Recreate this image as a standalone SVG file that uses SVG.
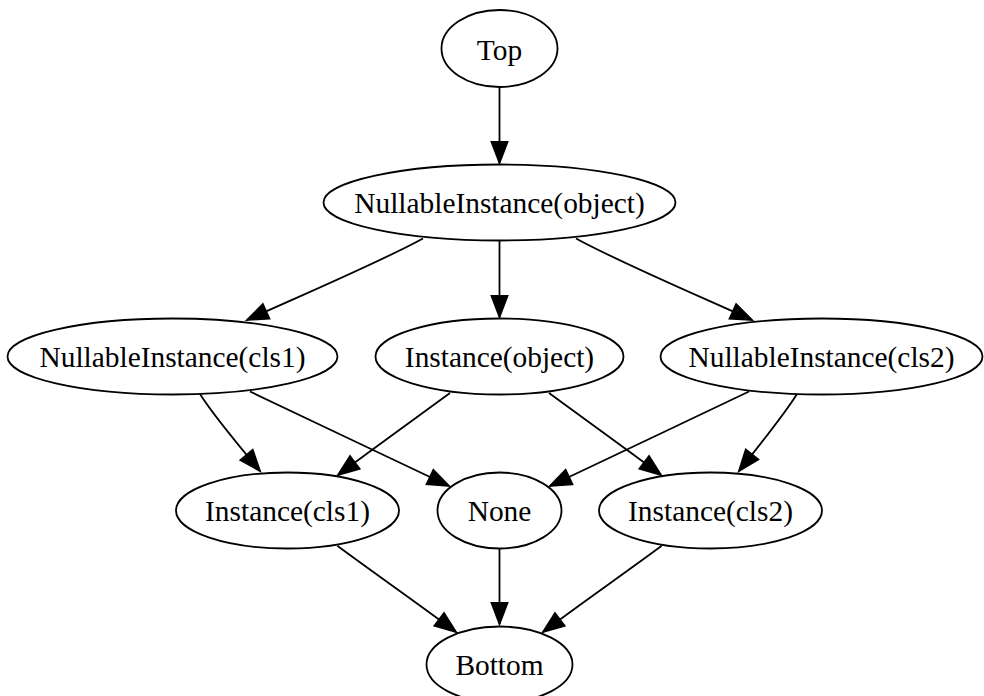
<svg xmlns="http://www.w3.org/2000/svg" width="984" height="696" viewBox="0 0 984 696">
<style>
.n ellipse{fill:none;stroke:#000;stroke-width:1.8}
.n text{font-family:"Liberation Serif","Times New Roman",serif;font-size:29.4px;text-anchor:middle;fill:#000}
#edges path{fill:none;stroke:#000;stroke-width:1.8;marker-end:url(#arr)}
</style>
<defs>
<marker id="arr" markerUnits="userSpaceOnUse" markerWidth="30" markerHeight="24" viewBox="-3 -3 30 24" refX="21" refY="8" orient="auto" overflow="visible">
<path d="M0,0 L21,8 L0,16 Z" fill="#000" stroke="#000" stroke-width="1.8"/>
</marker>
</defs>
<rect width="984" height="696" fill="#fff"/>
<g id="edges">
<path d="M499.5,87 L499.5,163"/>
<path d="M423,238.5 C380,262 300,296 247,320"/>
<path d="M499.5,241 L499.5,317"/>
<path d="M576,238.5 C619,262 699,296 752,320"/>
<path d="M200,394 C213,415 240,447 260,471"/>
<path d="M250,391.5 C310,420 400,463 449,486"/>
<path d="M450,393 C420,415 370,451 338,475"/>
<path d="M549,393 C579,415 629,451 661,475"/>
<path d="M749,391.5 C689,420 599,463 550,486"/>
<path d="M797,394 C784,415 758,447 739,471"/>
<path d="M337.3,545.7 C370,570 420,605 456,632"/>
<path d="M499.5,548.5 L499.5,624"/>
<path d="M661.7,545.7 C629,570 579,605 543,632"/>
</g>
<g id="top" class="n"><ellipse cx="499.5" cy="48.5" rx="58" ry="38.5"/><text x="499.5" y="59.5">Top</text></g>
<g id="nullable_object" class="n"><ellipse cx="499.5" cy="202.5" rx="176" ry="38"/><text x="499.5" y="213">NullableInstance(object)</text></g>
<g id="nullable_cls1" class="n"><ellipse cx="172.5" cy="356.5" rx="165" ry="38"/><text x="172.5" y="367">NullableInstance(cls1)</text></g>
<g id="instance_object" class="n"><ellipse cx="499.5" cy="356.5" rx="124" ry="38"/><text x="499.5" y="367">Instance(object)</text></g>
<g id="nullable_cls2" class="n"><ellipse cx="821.5" cy="356.5" rx="161" ry="38"/><text x="821.5" y="367">NullableInstance(cls2)</text></g>
<g id="instance_cls1" class="n"><ellipse cx="287.5" cy="510.5" rx="111.5" ry="38"/><text x="287.5" y="521">Instance(cls1)</text></g>
<g id="none" class="n"><ellipse cx="499.5" cy="510.5" rx="62" ry="38"/><text x="499.5" y="521">None</text></g>
<g id="instance_cls2" class="n"><ellipse cx="710.5" cy="510.5" rx="111.5" ry="38"/><text x="710.5" y="521">Instance(cls2)</text></g>
<g id="bottom" class="n"><ellipse cx="499.5" cy="664.5" rx="73" ry="38"/><text x="499.5" y="675">Bottom</text></g>
</svg>
